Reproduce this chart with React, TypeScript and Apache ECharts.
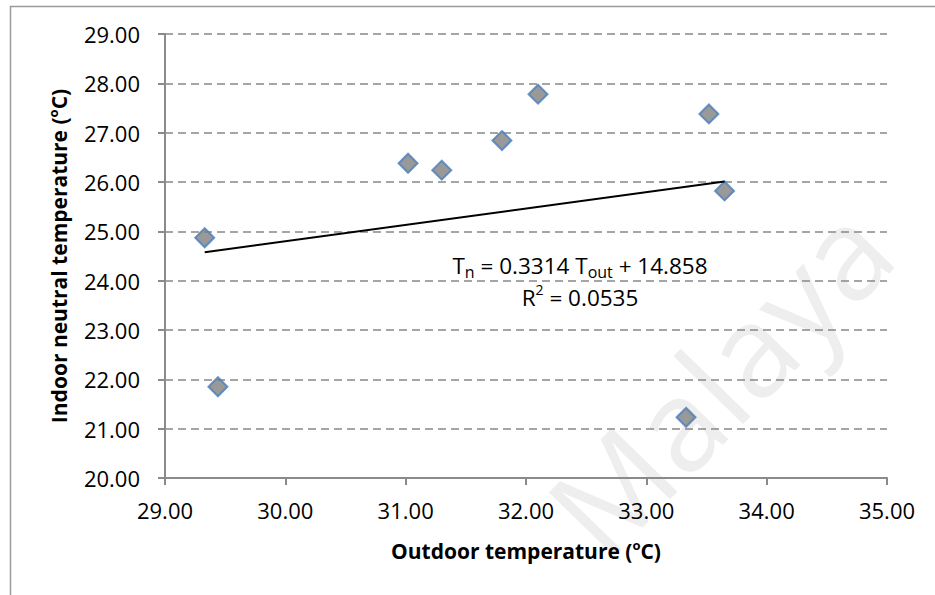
import React, { useEffect, useRef } from "react";
import * as echarts from "echarts";

// Outdoor temperature (°C) and indoor neutral temperature (°C)
const outdoorTemp = [29.33, 29.44, 31.02, 31.3, 31.8, 32.1, 33.52, 33.65, 33.33];
const neutralTemp = [24.87, 21.85, 26.38, 26.24, 26.84, 27.78, 27.38, 25.82, 21.23];
// Linear trendline coefficients (from the figure)
const trendSlope = 0.3314;
const trendIntercept = 14.858;

const FONT = "Open Sans";

export default function App() {
  const ref = useRef<HTMLDivElement>(null);
  useEffect(() => {
    if (!ref.current) return;
    const chart = echarts.init(ref.current, null, { renderer: "svg" });
    const points = outdoorTemp.map((x, i) => [x, neutralTemp[i]]);
    const xMin = Math.min(...outdoorTemp);
    const xMax = Math.max(...outdoorTemp);
    const trend = [
      [xMin, trendSlope * xMin + trendIntercept],
      [xMax, trendSlope * xMax + trendIntercept],
    ];
    const axisColor = "#8a8a8a";
    const nameStyle = {
      fontFamily: FONT,
      fontWeight: "bold",
      fontSize: 21,
      color: "#000",
      rich: {
        sup: { fontFamily: FONT, fontWeight: "bold", fontSize: 13, verticalAlign: "top", lineHeight: 26, color: "#000" },
      },
    };
    chart.setOption({
      animation: false,
      backgroundColor: "#ffffff",
      textStyle: { fontFamily: FONT },
      grid: { left: 165, right: 48, top: 34, bottom: 117, containLabel: false },
      xAxis: {
        type: "value",
        min: 29,
        max: 35,
        interval: 1,
        name: "Outdoor temperature ({sup|o}C)",
        nameLocation: "middle",
        nameGap: 60,
        nameTextStyle: nameStyle,
        axisLine: { show: true, onZero: false, lineStyle: { color: axisColor, width: 2 } },
        axisTick: { show: true, inside: false, length: 7, lineStyle: { color: axisColor, width: 2 } },
        axisLabel: {
          margin: 21,
          fontFamily: FONT,
          fontSize: 22,
          color: "#000",
          formatter: (v: number) => v.toFixed(2),
        },
        splitLine: { show: false },
      },
      yAxis: {
        type: "value",
        min: 20,
        max: 29,
        interval: 1,
        name: "Indoor neutral temperature ({sup|o}C)",
        nameLocation: "middle",
        nameGap: 93,
        nameRotate: 90,
        nameTextStyle: nameStyle,
        axisLine: { show: true, onZero: false, lineStyle: { color: axisColor, width: 2 } },
        axisTick: { show: true, inside: false, length: 7, lineStyle: { color: axisColor, width: 2 } },
        axisLabel: {
          margin: 25,
          fontFamily: FONT,
          fontSize: 22,
          color: "#000",
          formatter: (v: number) => v.toFixed(2),
        },
        splitLine: { show: true, lineStyle: { color: "#888888", width: 1.5, type: [8, 5] } },
      },
      series: [
        {
          type: "scatter",
          data: points,
          symbol: "diamond",
          symbolSize: [19, 19],
          itemStyle: { color: "#7f7f7f", borderColor: "#4a7ebb", borderWidth: 2 },
          z: 2,
        },
        {
          type: "line",
          data: trend,
          symbol: "none",
          lineStyle: { color: "#000", width: 2 },
          z: 3,
        },
      ],
      graphic: [
        {
          type: "text",
          x: 718,
          y: 378,
          rotation: 0.8,
          z: -10,
          silent: true,
          style: {
            text: "Malaya",
            fontFamily: FONT,
            fontSize: 128,
            fill: "#eeeeee",
            textAlign: "center",
            textVerticalAlign: "middle",
          },
        },
        {
          type: "rect",
          shape: { x: 10.5, y: 6.5, width: 1200, height: 1000 },
          style: { fill: "none", stroke: "#9a9a9a", lineWidth: 1.5 },
          silent: true,
        },
        {
          type: "text",
          x: 580,
          y: 250,
          z: 10,
          style: {
            text: "{t|T}{sub|n}{t| = 0.3314 T}{sub|out}{t| + 14.858}",
            textAlign: "center",
            fontFamily: FONT,
            rich: {
              t: { fontFamily: FONT, fontSize: 22.5, lineHeight: 30, fill: "#000" },
              sub: { fontFamily: FONT, fontSize: 16, lineHeight: 14, verticalAlign: "bottom", fill: "#000" },
            },
          },
        },
        {
          type: "text",
          x: 580,
          y: 282,
          z: 10,
          style: {
            text: "{t|R}{sup|2}{t| = 0.0535}",
            textAlign: "center",
            fontFamily: FONT,
            rich: {
              t: { fontFamily: FONT, fontSize: 22.5, lineHeight: 30, fill: "#000" },
              sup: { fontFamily: FONT, fontSize: 14, lineHeight: 18, verticalAlign: "top", fill: "#000" },
            },
          },
        },
      ],
    });
    return () => chart.dispose();
  }, []);
  return (
    <div
      ref={ref}
      style={{ position: "fixed", left: 0, top: 0, width: 935, height: 595, background: "#fff" }}
    />
  );
}
